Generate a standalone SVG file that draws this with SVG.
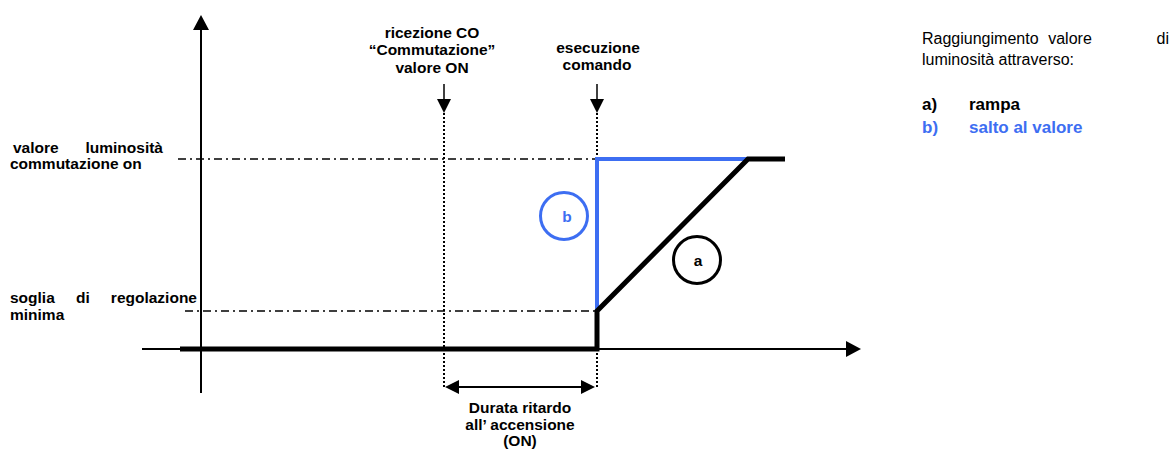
<svg xmlns="http://www.w3.org/2000/svg" width="1176" height="450" viewBox="0 0 1176 450">
<style>
text{font-family:"Liberation Sans",Arial,sans-serif;fill:#000}
.b{font-weight:bold;font-size:15.5px}
.n{font-size:16px}
.bl{font-weight:bold;font-size:17px}
.dd{stroke:#000;stroke-width:1.5;stroke-dasharray:8,4,2,4;fill:none}
.dot{stroke:#000;stroke-width:2;stroke-dasharray:2,2;fill:none}
.ax{stroke:#000;stroke-width:2;fill:none}
</style>
<rect width="1176" height="450" fill="#fff"/>
<g id="axes">
<line class="ax" x1="201" y1="393" x2="201" y2="29"/>
<path d="M193,30 L201,15 L209,30 Z" fill="#000"/>
<line class="ax" x1="142" y1="349" x2="847" y2="349"/>
<path d="M846,341 L861,349 L846,357 Z" fill="#000"/>
</g>
<g id="guides">
<line class="dd" x1="178" y1="159" x2="597" y2="159"/>
<line class="dd" x1="185" y1="311" x2="597" y2="311"/>
<line class="dot" x1="444" y1="113" x2="444" y2="387"/>
<line class="dot" x1="597" y1="113" x2="597" y2="387"/>
</g>
<g id="connectors">
<line x1="444" y1="84" x2="444" y2="100" stroke="#000" stroke-width="1.5"/>
<path d="M437,99 L444,113 L451,99 Z" fill="#000"/>
<line x1="597" y1="84" x2="597" y2="100" stroke="#000" stroke-width="1.5"/>
<path d="M590,99 L597,113 L604,99 Z" fill="#000"/>
<line x1="458" y1="387" x2="582" y2="387" stroke="#000" stroke-width="2"/>
<path d="M459,380 L445,387 L459,394 Z" fill="#000"/>
<path d="M581,380 L595,387 L581,394 Z" fill="#000"/>
</g>
<g id="curves">
<polyline points="597,311 597,159 748,159" fill="none" stroke="#3d6ef2" stroke-width="4"/>
<polyline points="180,349 597,349 597,311 748,159 785,159" fill="none" stroke="#000" stroke-width="5" stroke-linejoin="miter"/>
</g>
<g id="node-b">
<circle cx="564" cy="216" r="23.5" fill="none" stroke="#3d6ef2" stroke-width="3"/>
<text class="b" x="567" y="222" text-anchor="middle" style="fill:#3d6ef2">b</text>
</g>
<g id="node-a">
<circle cx="697" cy="260" r="23.5" fill="none" stroke="#000" stroke-width="3"/>
<text class="b" x="698" y="266" text-anchor="middle">a</text>
</g>
<g id="labels">
<text class="b" x="432" y="38" text-anchor="middle">ricezione CO</text>
<text class="b" x="432" y="55" text-anchor="middle">“Commutazione”</text>
<text class="b" x="432" y="73" text-anchor="middle">valore ON</text>
<text class="b" x="598" y="53" text-anchor="middle">esecuzione</text>
<text class="b" x="597" y="70" text-anchor="middle">comando</text>
<text class="b" x="13" y="153">valore</text>
<text class="b" x="163" y="153" text-anchor="end">luminosità</text>
<text class="b" x="10" y="169">commutazione on</text>
<text class="b" x="10" y="303">soglia</text>
<text class="b" x="76" y="303">di</text>
<text class="b" x="197" y="303" text-anchor="end">regolazione</text>
<text class="b" x="10" y="320">minima</text>
<text class="b" x="520" y="413" text-anchor="middle">Durata ritardo</text>
<text class="b" x="520" y="430" text-anchor="middle">all’ accensione</text>
<text class="b" x="520" y="446" text-anchor="middle">(ON)</text>
</g>
<g id="legend">
<text class="n" x="922" y="44">Raggiungimento</text>
<text class="n" x="1070" y="44" text-anchor="middle">valore</text>
<text class="n" x="1169" y="44" text-anchor="end">di</text>
<text class="n" x="922" y="65">luminosità attraverso:</text>
<text class="bl" x="922" y="110">a)</text>
<text class="bl" x="969" y="110">rampa</text>
<text class="bl" x="922" y="133" style="fill:#3d6ef2">b)</text>
<text class="bl" x="969" y="133" style="fill:#3d6ef2">salto al valore</text>
</g>
</svg>
